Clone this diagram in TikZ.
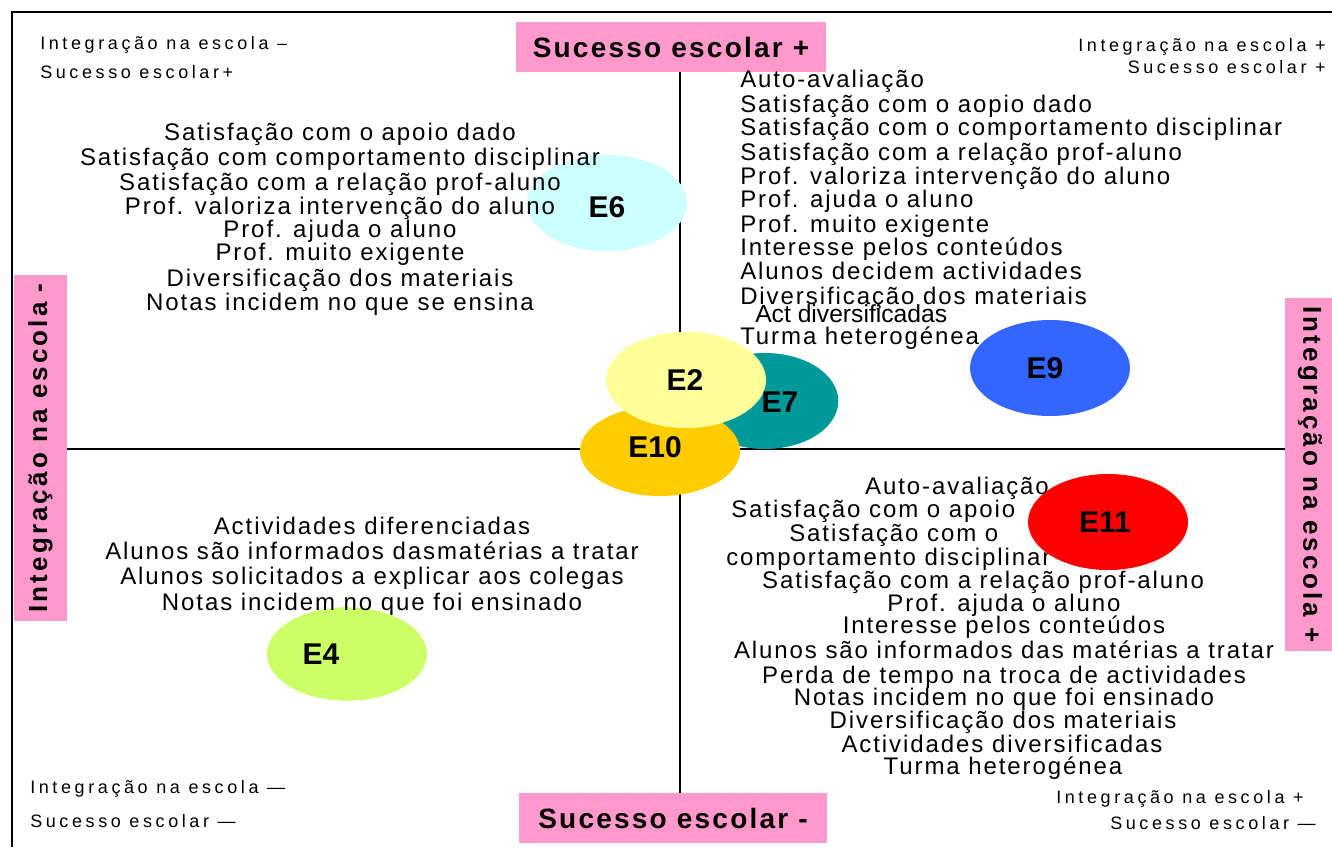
\documentclass[tikz,border=0pt]{standalone}
\usepackage{fontspec}
\setmainfont{Liberation Sans}
\newfontfamily\lstf[LetterSpace=8]{Liberation Sans}
\newfontfamily\crnf[LetterSpace=20]{Liberation Sans}
\newfontfamily\boxf[LetterSpace=8]{Liberation Sans}
\newfontfamily\sidef[LetterSpace=12]{Liberation Sans}
\usetikzlibrary{shapes.geometric}
\definecolor{pinkc}{HTML}{FF99CC}
\definecolor{c6}{HTML}{CCFFFF}
\definecolor{c9}{HTML}{3366FF}
\definecolor{c7}{HTML}{009999}
\definecolor{c2}{HTML}{FFFF99}
\definecolor{c10}{HTML}{FFCC00}
\definecolor{c11}{HTML}{FF0000}
\definecolor{c4}{HTML}{CCFF66}
\tikzset{
  lst/.style={inner sep=0pt, yshift=-3pt, font=\lstf\fontsize{18}{19}\selectfont},
  crn/.style={inner sep=0pt, yshift=-2pt, font=\crnf\fontsize{13.5}{14}\selectfont},
  pinkbox/.style={fill=pinkc, draw=none, inner sep=0pt, font=\boxf\bfseries\fontsize{21}{24}\selectfont},
  sidebox/.style={fill=pinkc, draw=none, inner sep=0pt, font=\sidef\bfseries\fontsize{19.5}{22}\selectfont},
  blob/.style={ellipse, draw=none, inner sep=0pt, minimum width=120pt, minimum height=72pt},
  elab/.style={inner sep=0pt, font=\bfseries\fontsize{22.5}{24}\selectfont},
  axis/.style={line width=2.2pt, draw=black},
  frame/.style={line width=1.8pt, draw=black}
}
\begin{document}
\begin{tikzpicture}[x=0.75pt, y=-0.75pt]
\useasboundingbox (0,0) rectangle (1332,847);
% frame
\coordinate (ftl) at (12,12);
\coordinate (ftr) at (1332,12);
\coordinate (fbl) at (12,847);
\draw[frame] (ftr) -- (ftl) -- (fbl);
% pink boxes
\node[pinkbox, minimum width=232.5pt, minimum height=37.5pt] (tbox) at (671,47) {Sucesso escolar +};
\node[pinkbox, minimum width=231pt, minimum height=37.5pt] (bbox) at (673,818) {Sucesso escolar -};
\node[sidebox, rotate=90, minimum width=259.5pt, minimum height=39.75pt] (lbox) at (40.5,448) {Integração na escola -};
\node[sidebox, rotate=-90, minimum width=264.75pt, minimum height=37.5pt] (rbox) at (1310,474.5) {Integração na escola +};
% axes
\coordinate (vx) at (680,0);
\coordinate (hy) at (0,449);
\draw[axis] (tbox.south -| vx) -- (bbox.north -| vx);
\draw[axis] (lbox.south |- hy) -- (rbox.south |- hy);
% corner labels
\node[crn, anchor=mid west] (ctl1) at (40,43) {Integração na escola –};
\node[crn, anchor=mid west] (ctl2) at (40,72) {Sucesso escolar+};
\node[crn, anchor=mid east] (ctr1) at (1326,45) {Integração na escola +};
\node[crn, anchor=mid east] (ctr2) at (1326,67) {Sucesso escolar +};
\node[crn, anchor=mid west] (cbl1) at (30,787) {Integração na escola —};
\node[crn, anchor=mid west] (cbl2) at (30,821) {Sucesso escolar —};
\node[crn, anchor=mid west] (cbr1) at (1056,797) {Integração na escola +};
\node[crn, anchor=mid west] (cbr2) at (1110,823) {Sucesso escolar —};
% ellipses behind text
\node[blob, fill=c6] (e6) at (607,203) {};
\node[blob, fill=c9] (e9) at (1050,368) {};
\node[blob, fill=c4, minimum height=70pt] (e4) at (347,654) {};
\node[blob, fill=c7, minimum width=110pt] (e7) at (765,401) {};
\node[blob, fill=c10, minimum height=67.5pt] (e10) at (660,451) {};
\node[blob, fill=c2] (e2) at (686,380) {};
% top-left list
\node[lst, anchor=mid] (a1) at (340,133) {Satisfação com o apoio dado};
\node[lst, anchor=mid] (a2) at (340,158) {Satisfação com comportamento disciplinar};
\node[lst, anchor=mid] (a3) at (340,183) {Satisfação com a relação prof-aluno};
\node[lst, anchor=mid] (a4) at (340,207) {Prof. valoriza intervenção do aluno};
\node[lst, anchor=mid] (a5) at (340,230) {Prof. ajuda o aluno};
\node[lst, anchor=mid] (a6) at (340,253) {Prof. muito exigente};
\node[lst, anchor=mid] (a7) at (340,279) {Diversificação dos materiais};
\node[lst, anchor=mid] (a8) at (340,303) {Notas incidem no que se ensina};
% top-right list
\node[lst, anchor=mid west] (b1) at (740,80) {Auto-avaliação};
\node[lst, anchor=mid west] (b2) at (740,105) {Satisfação com o aopio dado};
\node[lst, anchor=mid west] (b3) at (740,128) {Satisfação com o comportamento disciplinar};
\node[lst, anchor=mid west] (b4) at (740,153) {Satisfação com a relação prof-aluno};
\node[lst, anchor=mid west] (b5) at (740,177) {Prof. valoriza intervenção do aluno};
\node[lst, anchor=mid west] (b6) at (740,200) {Prof. ajuda o aluno};
\node[lst, anchor=mid west] (b7) at (740,225) {Prof. muito exigente};
\node[lst, anchor=mid west] (b8) at (740,248) {Interesse pelos conteúdos};
\node[lst, anchor=mid west] (b9) at (740,272) {Alunos decidem actividades};
\node[lst, anchor=mid west] (b10) at (740,297) {Diversificação dos materiais};
\node[inner sep=0pt, yshift=-3pt, font=\fontsize{18.5}{20}\selectfont, anchor=mid west] (b11) at (755,315) {Act diversificadas};
\node[lst, anchor=mid west] (b12) at (740,337) {Turma heterogénea};
% bottom-left list
\node[lst, anchor=mid] (c1) at (372,527) {Actividades diferenciadas};
\node[lst, anchor=mid] (c2) at (372,552) {Alunos são informados dasmatérias a tratar};
\node[lst, anchor=mid] (c3) at (372,577) {Alunos solicitados a explicar aos colegas};
\node[lst, anchor=mid] (c4) at (372,603) {Notas incidem no que foi ensinado};
% bottom-right list
\node[lst, anchor=mid] (d1) at (957,487) {Auto-avaliação};
\node[lst, anchor=mid west] (d2) at (731,510) {Satisfação com o apoio};
\node[lst, anchor=mid west] (d3) at (789,534) {Satisfação com o};
\node[lst, anchor=mid west] (d4) at (726,558) {comportamento disciplinar};
\node[lst, anchor=mid] (d5) at (983,581) {Satisfação com a relação prof-aluno};
\node[lst, anchor=mid] (d6) at (1004,604) {Prof. ajuda o aluno};
\node[lst, anchor=mid] (d7) at (1004,626) {Interesse pelos conteúdos};
\node[lst, anchor=mid] (d8) at (1004,651) {Alunos são informados das matérias a tratar};
\node[lst, anchor=mid] (d9) at (1004,676) {Perda de tempo na troca de actividades};
\node[lst, anchor=mid] (d10) at (1004,698) {Notas incidem no que foi ensinado};
\node[lst, anchor=mid] (d11) at (1003,721) {Diversificação dos materiais};
\node[lst, anchor=mid] (d12) at (1002,745) {Actividades diversificadas};
\node[lst, anchor=mid] (d13) at (1003,767) {Turma heterogénea};
% E11 on top of text
\node[blob, fill=c11] (e11) at (1108,522) {};
% ellipse labels
\node[elab] (l6) at (607,207) {E6};
\node[elab] (l9) at (1045,368) {E9};
\node[elab] (l7) at (780,402) {E7};
\node[elab] (l2) at (685,380) {E2};
\node[elab] (l10) at (655,447) {E10};
\node[elab] (l11) at (1105,522) {E11};
\node[elab] (l4) at (321,654) {E4};
\end{tikzpicture}
\end{document}
